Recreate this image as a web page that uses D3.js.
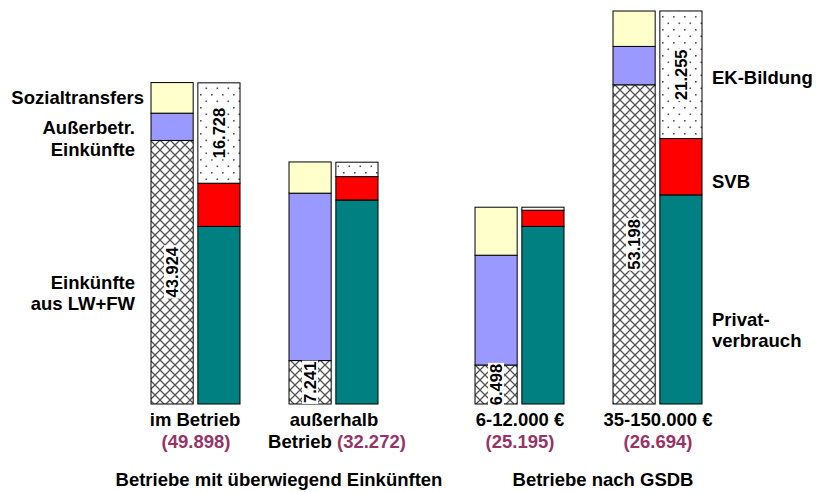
<!DOCTYPE html>
<html>
<head>
<meta charset="utf-8">
<script src="https://cdn.jsdelivr.net/npm/d3@7"></script>
<style>
  html, body { margin: 0; padding: 0; background: #fff; }
  svg { display: block; font-family: "Liberation Sans", Arial, sans-serif; font-weight: bold; }
</style>
</head>
<body>
<svg id="chart" width="816" height="492"></svg>
<script>
// Categories and groups
const groups = ["Betriebe mit überwiegend Einkünften", "Betriebe nach GSDB"];
const categories = ["im Betrieb", "außerhalb Betrieb", "6-12.000 €", "35-150.000 €"];
const categoryGroup = [0, 0, 1, 1];
const totals = ["(49.898)", "(32.272)", "(25.195)", "(26.694)"];

// Income side (1.000 €)
const einkuenfteLWFW   = [43.924, 7.241, 6.498, 53.198];
const ausserbetrieblich = [4.55, 27.9, 18.3, 6.4];
const sozialtransfers  = [5.1, 5.2, 8.0, 5.9];

// Use side (1.000 €)
const privatverbrauch  = [29.6, 34.0, 29.6, 34.85];
const svb              = [7.2, 3.9, 2.7, 9.4];
const ekBildung        = [16.728, 2.4, 0.5, 21.255];

// Labels
const incomeLabels = ["Einkünfte aus LW+FW", "Außerbetr. Einkünfte", "Sozialtransfers"];
const useLabels = ["Privatverbrauch", "SVB", "EK-Bildung"];

const svg = d3.select("#chart");

// Patterns
const defs = svg.append("defs");
const hatch = defs.append("pattern").attr("id", "hatch")
  .attr("patternUnits", "userSpaceOnUse").attr("width", 10).attr("height", 10);
hatch.append("rect").attr("width", 10).attr("height", 10).attr("fill", "#fff");
hatch.append("path").attr("d", "M0,0L10,10M10,0L0,10M-1,9L1,11M9,-1L11,1")
  .attr("stroke", "#555").attr("stroke-width", 1.3);

const dots = defs.append("pattern").attr("id", "dots")
  .attr("patternUnits", "userSpaceOnUse").attr("width", 11).attr("height", 13);
dots.append("rect").attr("width", 11).attr("height", 13).attr("fill", "#fff");
dots.append("rect").attr("x", 2).attr("y", 3).attr("width", 1.6).attr("height", 1.6).attr("fill", "#555");
dots.append("rect").attr("x", 7.5).attr("y", 9.5).attr("width", 1.6).attr("height", 1.6).attr("fill", "#555");

// Scales
const outer = d3.scaleBand().domain(groups).range([127, 727]).paddingInner(48 / 324);
const inner = d3.scaleBand().domain([0, 1]).range([0, outer.bandwidth()])
  .paddingInner(0.348).paddingOuter(0.174);
const side = d3.scaleBand().domain(["income", "use"]).range([0, 89]).paddingInner(0.1);
const y = d3.scaleLinear().domain([0, 66]).range([404, 8]);

const catX = i => outer(groups[categoryGroup[i]]) + inner(i % 2);
const catCenter = i => catX(i) + inner.bandwidth() / 2;

// Stacked data
const incomeRows = categories.map((c, i) => ({ i, a: einkuenfteLWFW[i], b: ausserbetrieblich[i], c: sozialtransfers[i] }));
const useRows = categories.map((c, i) => ({ i, a: privatverbrauch[i], b: svb[i], c: ekBildung[i] }));
const stack = d3.stack().keys(["a", "b", "c"]);

const incomeFill = { a: "url(#hatch)", b: "#9999ff", c: "#ffffcc" };
const useFill = { a: "#008080", b: "#ff0000", c: "url(#dots)" };

function drawStack(rows, sideKey, fills) {
  const layers = stack(rows);
  svg.append("g").selectAll("g").data(layers).join("g")
    .attr("fill", d => fills[d.key])
    .selectAll("rect").data(d => d).join("rect")
      .attr("x", d => catX(d.data.i) + side(sideKey))
      .attr("width", side.bandwidth())
      .attr("y", d => y(d[1]))
      .attr("height", d => y(d[0]) - y(d[1]))
      .attr("stroke", "#000").attr("stroke-width", 1);
  return layers;
}
drawStack(incomeRows, "income", incomeFill);
drawStack(useRows, "use", useFill);

// Value labels inside the bars
function valueLabel(i, sideKey, lo, hi, value) {
  const cx = catX(i) + side(sideKey) + side.bandwidth() / 2;
  const cy = (y(lo) + y(hi)) / 2;
  const txt = d3.format(".3f")(value);
  const g = svg.append("g").attr("transform", `translate(${cx},${cy}) rotate(-90)`);
  const t = g.append("text").attr("text-anchor", "middle").attr("dy", "0.36em")
    .attr("font-size", 16.5).attr("fill", "#000").text(txt);
  const bb = t.node().getBBox();
  g.insert("rect", "text").attr("x", bb.x - 1).attr("y", bb.y + 1)
    .attr("width", bb.width + 2).attr("height", bb.height - 2).attr("fill", "#fff");
}
categories.forEach((c, i) => valueLabel(i, "income", 0, einkuenfteLWFW[i], einkuenfteLWFW[i]));
[0, 3].forEach(i => {
  const base = privatverbrauch[i] + svb[i];
  valueLabel(i, "use", base, base + ekBildung[i], ekBildung[i]);
});

// Side labels
const fs = 18.5;
const left = svg.append("g").attr("font-size", fs).attr("text-anchor", "end").attr("fill", "#000");
left.append("text").attr("x", 144).attr("y", 104).text(incomeLabels[2]);
left.append("text").attr("x", 135).attr("y", 134).text("Außerbetr.");
left.append("text").attr("x", 135).attr("y", 156).text("Einkünfte");
left.append("text").attr("x", 135).attr("y", 289).text("Einkünfte");
left.append("text").attr("x", 135).attr("y", 310).text("aus LW+FW");

const right = svg.append("g").attr("font-size", fs).attr("text-anchor", "start").attr("fill", "#000");
right.append("text").attr("x", 712).attr("y", 84).text(useLabels[2]);
right.append("text").attr("x", 712).attr("y", 188).text(useLabels[1]);
right.append("text").attr("x", 712).attr("y", 326).text("Privat-");
right.append("text").attr("x", 712).attr("y", 347).text("verbrauch");

// Category labels with totals
const purple = "#993366";
const cat = svg.append("g").attr("font-size", fs).attr("text-anchor", "middle");
categories.forEach((c, i) => {
  const x = catCenter(i);
  if (i === 1) {
    cat.append("text").attr("x", x).attr("y", 426).text("außerhalb");
    const t = cat.append("text").attr("x", x + 3).attr("y", 448);
    t.append("tspan").attr("fill", "#000").text("Betrieb ");
    t.append("tspan").attr("fill", purple).text(totals[i]);
  } else {
    cat.append("text").attr("x", x + (i === 0 ? -1 : 0)).attr("y", 426).text(c);
    cat.append("text").attr("x", x).attr("y", 448).attr("fill", purple).text(totals[i]);
  }
});

// Group titles
svg.append("g").attr("font-size", fs).attr("text-anchor", "middle")
  .selectAll("text").data(groups).join("text")
  .attr("x", g => outer(g) + outer.bandwidth() / 2 + 14)
  .attr("y", 486)
  .text(g => g);
</script>
</body>
</html>
